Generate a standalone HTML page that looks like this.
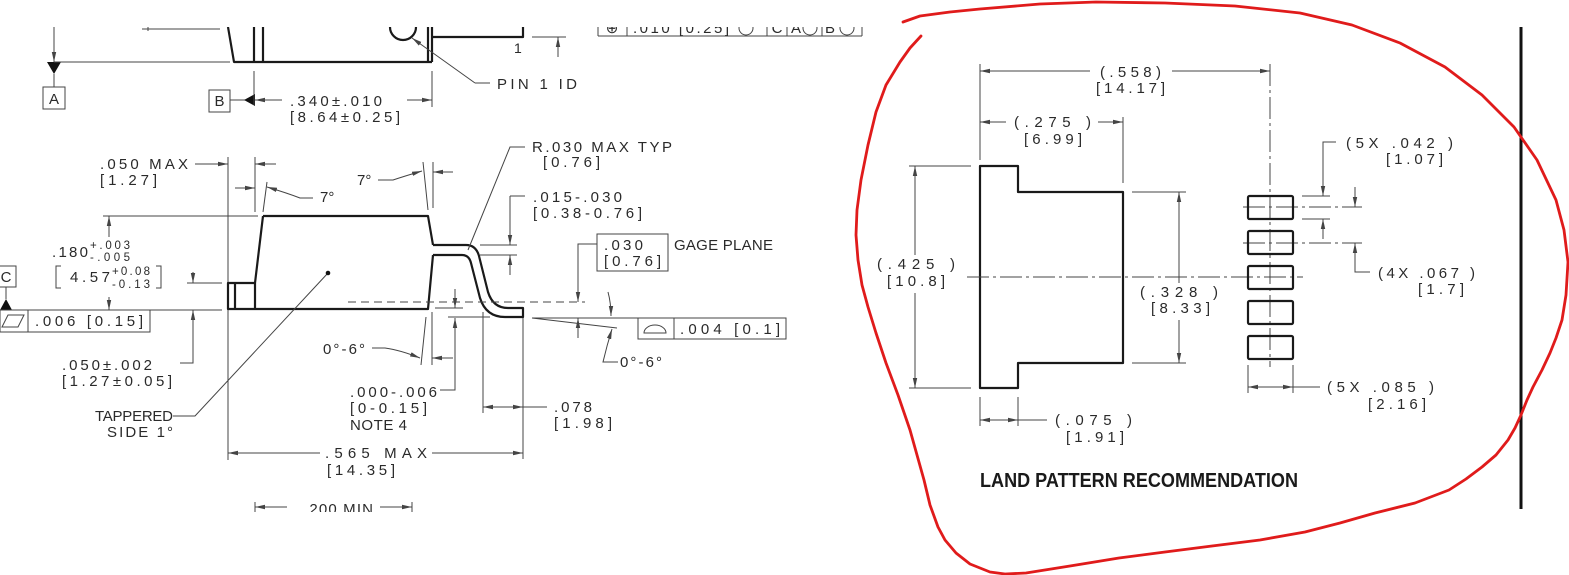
<!DOCTYPE html>
<html><head><meta charset="utf-8"><style>
html,body{margin:0;padding:0;background:#fff;}
svg{display:block;}
.t{font-family:"Liberation Sans",sans-serif;font-size:15px;fill:#2a2a2a;}
.s{font-family:"Liberation Sans",sans-serif;font-size:11.5px;fill:#2a2a2a;}
.n{stroke:#444;stroke-width:1;fill:none;}
.k{stroke:#1a1a1a;stroke-width:2.2;fill:none;stroke-linejoin:round;}
.cd{stroke:#444;stroke-width:1;fill:none;stroke-dasharray:22,4,3,4;}
</style></head><body>
<svg width="1569" height="575" viewBox="0 0 1569 575" xmlns="http://www.w3.org/2000/svg">
<defs>
<marker id="h" markerUnits="userSpaceOnUse" markerWidth="11" markerHeight="6" refX="10" refY="3" orient="auto-start-reverse" viewBox="0 0 11 6"><path d="M0,0.8 L10,3 L0,5.2 z" fill="#444"/></marker>
<clipPath id="cl"><rect x="0" y="27" width="900" height="485"/></clipPath>
</defs>
<rect width="1569" height="575" fill="#fff"/>

<g clip-path="url(#cl)">
<!-- top-left datum A -->
<path class="n" d="M54,27 L54,62" marker-end="url(#h)"/>
<polygon points="47,62 61,62 54,74" fill="#111"/>
<path class="n" d="M54,74 L54,87"/>
<rect x="43" y="87" width="22" height="22" class="n"/>
<text class="t" x="54" y="104" text-anchor="middle">A</text>
<path class="n" d="M54,62 L230,62" stroke="#777"/>
<path class="n" d="M142,29 L220,29 M148,27 L148,31"/>
<!-- top body -->
<path class="k" d="M228,27 L234,62 L432,62 M254,27 L254,62 M263,27 L263,62 M428,27 L428,62 M432,27 L432,62 M432,37 L523,37 L523,27"/>
<circle cx="403" cy="27" r="13" class="k" stroke-width="1.6"/>
<text x="514" y="53" style="font-family:'Liberation Sans',sans-serif;font-size:14px;fill:#2a2a2a;">1</text>
<path class="n" d="M532,37 L566,37"/>
<path class="n" d="M558,57 L558,37" marker-end="url(#h)"/>
<path class="n" d="M475,83 L412,38" marker-end="url(#h)"/>
<path class="n" d="M475,83 L490,83"/>
<text class="t" x="497" y="89" textLength="80">PIN 1 ID</text>
<!-- top FCF -->
<path class="n" d="M598,36 L862,36 M598,20 L598,36 M627,20 L627,36 M767,20 L767,36 M787,20 L787,36 M822,20 L822,36 M862,20 L862,36"/>
<text class="t" x="612" y="33" text-anchor="middle">⊕</text>
<text class="t" x="633" y="33" textLength="96">.010 [0.25]</text>
<circle cx="746" cy="28" r="7" class="n"/>
<text class="t" x="777" y="33" text-anchor="middle">C</text>
<text class="t" x="796" y="33" text-anchor="middle">A</text>
<circle cx="810" cy="28" r="7" class="n"/>
<text class="t" x="830" y="33" text-anchor="middle">B</text>
<circle cx="847" cy="28" r="7" class="n"/>

<!-- datum B + .340 -->
<rect x="209" y="90" width="21" height="22" class="n"/>
<text class="t" x="219.5" y="106" text-anchor="middle">B</text>
<path class="n" d="M230,100 L245,100"/>
<polygon points="244,100 255,94 255,106" fill="#111"/>
<path class="n" d="M254,71 L254,105 M432,71 L432,107"/>
<path class="n" d="M282,100 L255,100" marker-end="url(#h)"/>
<path class="n" d="M407,100 L432,100" marker-end="url(#h)"/>
<text class="t" x="290" y="106" textLength="92">.340±.010</text>
<text class="t" x="290" y="122" textLength="110">[8.64±0.25]</text>

<!-- .050 MAX -->
<text class="t" x="100" y="169" textLength="88">.050  MAX</text>
<text class="t" x="100" y="185" textLength="57">[1.27]</text>
<path class="n" d="M195,164 L228,164" marker-end="url(#h)"/>
<path class="n" d="M276,164 L255,164" marker-end="url(#h)"/>
<path class="n" d="M228,157 L228,460 M255,157 L255,212"/>
<!-- lower-left 7 deg -->
<path class="n" d="M235,188 L255,188" marker-end="url(#h)"/>
<path class="n" d="M267,182 L263,212"/>
<path class="n" d="M313,198 L300,198 Q287,193 267,187" marker-end="url(#h)"/>
<text class="t" x="320" y="202">7°</text>
<!-- upper-right 7 deg -->
<text class="t" x="357" y="185">7°</text>
<path class="n" d="M378,180 L393,180 Q405,176 422,171" marker-end="url(#h)"/>
<path class="n" d="M423,162 L428,210 M433,162 L433,208"/>
<path class="n" d="M453,172 L433,172" marker-end="url(#h)"/>

<!-- body side view -->
<path class="k" d="M263,216 L428,216 L433,245 M433,255 L428,309 L228,309 L228,283 L255,283 M263,216 L255,283 L255,309 M235,283 L235,309"/>
<!-- lead -->
<path class="k" d="M433,245 L466,245 Q476,245 479,256 L488,292 Q493,308 508,308 L523,308 L523,317 L505,317 Q486,317 480,298 L471,263 Q469,255 462,255 L433,255"/>
<path class="n" d="M348,302 L585,302" stroke-dasharray="8,5" stroke="#555"/>

<!-- .180 -->
<path class="n" d="M103,216 L258,216 M187,283 L222,283 M150,310 L222,310"/>
<path class="n" d="M109,237 L109,216" marker-end="url(#h)"/>
<path class="n" d="M109,297 L109,310" marker-end="url(#h)"/>
<text class="t" x="52" y="257" textLength="36">.180</text>
<text class="s" x="90" y="249" textLength="40">+.003</text>
<text class="s" x="90" y="261" textLength="40">-.005</text>
<path class="n" d="M61,266 L56,266 L56,288 L61,288 M156,266 L161,266 L161,288 L156,288"/>
<text class="t" x="70" y="282" textLength="40">4.57</text>
<text class="s" x="112" y="275" textLength="38">+0.08</text>
<text class="s" x="112" y="288" textLength="38">-0.13</text>
<!-- datum C and FCF -->
<rect x="-5" y="266" width="21" height="21" class="n"/>
<text class="t" x="6" y="282" text-anchor="middle">C</text>
<path class="n" d="M6,287 L6,299"/>
<polygon points="0,310 12,310 6,299" fill="#111"/>
<rect x="0" y="310" width="150" height="22" class="n"/>
<path class="n" d="M28,310 L28,332 M2,327 L8,315 L24,315 L18,327 Z"/>
<text class="t" x="35" y="326" textLength="108">.006 [0.15]</text>
<!-- .050±.002 -->
<path class="n" d="M193,272 L193,283" marker-end="url(#h)"/>
<path class="n" d="M180,363 L193,363 L193,310" marker-end="url(#h)"/>
<text class="t" x="62" y="370" textLength="90">.050±.002</text>
<text class="t" x="62" y="386" textLength="110">[1.27±0.05]</text>
<!-- tappered -->
<text class="t" x="95" y="421" textLength="78">TAPPERED</text>
<text class="t" x="107" y="437" textLength="66">SIDE 1°</text>
<path class="n" d="M173,416 L195,416 L328,273"/>
<circle cx="328" cy="273" r="2.3" fill="#111"/>

<!-- R.030 -->
<path class="n" d="M468,250 L510,147 L525,147"/>
<text class="t" x="532" y="152" textLength="140">R.030  MAX TYP</text>
<text class="t" x="543" y="167" textLength="57">[0.76]</text>
<!-- .015-.030 -->
<path class="n" d="M480,245 L517,245 M480,255 L517,255 M510,196 L525,196"/>
<path class="n" d="M510,196 L510,245" marker-end="url(#h)"/>
<path class="n" d="M510,275 L510,255" marker-end="url(#h)"/>
<text class="t" x="533" y="202" textLength="89">.015-.030</text>
<text class="t" x="533" y="218" textLength="109">[0.38-0.76]</text>
<!-- gage plane -->
<rect x="597" y="234" width="71" height="37" class="n"/>
<text class="t" x="604" y="250" textLength="39">.030</text>
<text class="t" x="604" y="266" textLength="57">[0.76]</text>
<text class="t" x="674" y="250" textLength="99">GAGE PLANE</text>
<path class="n" d="M597,244 L578,244 L578,302" marker-end="url(#h)"/>
<path class="n" d="M532,318 L638,318 M532,318 L617,328"/>
<path class="n" d="M578,338 L578,318" marker-end="url(#h)"/>
<path class="n" d="M608,292 Q611,303 611,316" marker-end="url(#h)"/>
<path class="n" d="M618,362 L603,362 Q607,345 612,329" marker-end="url(#h)"/>
<text class="t" x="620" y="367" textLength="42">0°-6°</text>
<rect x="638" y="318" width="148" height="21" class="n"/>
<path class="n" d="M674,318 L674,339 M644,333 A11,8 0 0 1 666,333 Z"/>
<text class="t" x="680" y="334" textLength="100">.004 [0.1]</text>
<!-- left 0-6 -->
<text class="t" x="323" y="354" textLength="42">0°-6°</text>
<path class="n" d="M372,348 L385,348 Q400,350 420,358" marker-end="url(#h)"/>
<path class="n" d="M426,317 L421,365 M432,312 L432,365"/>
<path class="n" d="M453,358 L432,358" marker-end="url(#h)"/>
<!-- .000-.006 -->
<path class="n" d="M435,308 L463,308 M448,317 L490,317"/>
<path class="n" d="M455,289 L455,308" marker-end="url(#h)"/>
<path class="n" d="M440,390 L455,390 L455,318" marker-end="url(#h)"/>
<text class="t" x="350" y="397" textLength="87">.000-.006</text>
<text class="t" x="350" y="413" textLength="77">[0-0.15]</text>
<text class="t" x="350" y="430" textLength="57">NOTE 4</text>
<!-- .078 -->
<path class="n" d="M483,312 L483,413 M523,318 L523,459"/>
<path class="n" d="M483,407 L523,407" marker-start="url(#h)" marker-end="url(#h)"/>
<path class="n" d="M523,407 L547,407"/>
<text class="t" x="554" y="412" textLength="38">.078</text>
<text class="t" x="554" y="428" textLength="58">[1.98]</text>
<!-- .565 -->
<path class="n" d="M320,453 L228,453" marker-end="url(#h)"/>
<path class="n" d="M432,453 L523,453" marker-end="url(#h)"/>
<text class="t" x="325" y="458" textLength="102">.565  MAX</text>
<text class="t" x="327" y="475" textLength="68">[14.35]</text>
<!-- .200 MIN -->
<path class="n" d="M255,502 L255,514 M412,502 L412,514"/>
<path class="n" d="M287,507 L255,507" marker-end="url(#h)"/>
<path class="n" d="M380,507 L412,507" marker-end="url(#h)"/>
<text class="t" x="304" y="514" textLength="69">.200 MIN</text>
</g>

<!-- RIGHT: land pattern -->
<path class="k" d="M980,166 L1018,166 L1018,192 L1123,192 L1123,363 L1018,363 L1018,388 L980,388 Z"/>
<!-- .558 -->
<path class="n" d="M980,64 L980,160"/>
<path class="n" d="M1090,71 L980,71" marker-end="url(#h)"/>
<path class="n" d="M1172,71 L1270,71" marker-end="url(#h)"/>
<text class="t" x="1100" y="77" textLength="61">(.558)</text>
<text class="t" x="1096" y="93" textLength="69">[14.17]</text>
<!-- .275 -->
<path class="n" d="M1006,122 L980,122" marker-end="url(#h)"/>
<path class="n" d="M1098,122 L1123,122" marker-end="url(#h)"/>
<path class="n" d="M1123,117 L1123,183"/>
<text class="t" x="1014" y="127" textLength="77">(.275  )</text>
<text class="t" x="1024" y="144" textLength="58">[6.99]</text>
<!-- centerlines -->
<path class="cd" d="M1270,64 L1270,367"/>
<path class="cd" d="M967,277 L1303,277"/>
<path class="cd" d="M1243,207 L1362,207"/>
<path class="cd" d="M1243,243 L1362,243"/>
<!-- .425 -->
<path class="n" d="M909,166 L971,166 M909,388 L971,388"/>
<path class="n" d="M915,255 L915,166" marker-end="url(#h)"/>
<path class="n" d="M915,293 L915,388" marker-end="url(#h)"/>
<text class="t" x="877" y="269" textLength="78">(.425  )</text>
<text class="t" x="887" y="286" textLength="58">[10.8]</text>
<!-- .328 -->
<path class="n" d="M1132,192 L1186,192 M1132,363 L1186,363"/>
<path class="n" d="M1179,283 L1179,192" marker-end="url(#h)"/>
<path class="n" d="M1179,320 L1179,363" marker-end="url(#h)"/>
<text class="t" x="1140" y="297" textLength="78">(.328  )</text>
<text class="t" x="1151" y="313" textLength="59">[8.33]</text>
<!-- .075 -->
<path class="n" d="M980,397 L980,426 M1018,397 L1018,426"/>
<path class="n" d="M980,420 L1018,420" marker-start="url(#h)" marker-end="url(#h)"/>
<path class="n" d="M1018,420 L1047,420"/>
<text class="t" x="1055" y="425" textLength="77">(.075  )</text>
<text class="t" x="1066" y="442" textLength="58">[1.91]</text>
<!-- pads -->
<rect x="1248" y="196" width="45" height="23" rx="1.5" class="k"/>
<rect x="1248" y="231" width="45" height="23" rx="1.5" class="k"/>
<rect x="1248" y="266" width="45" height="23" rx="1.5" class="k"/>
<rect x="1248" y="301" width="45" height="23" rx="1.5" class="k"/>
<rect x="1248" y="336" width="45" height="23" rx="1.5" class="k"/>
<!-- 5X .042 -->
<path class="n" d="M1302,196 L1330,196 M1302,219 L1330,219"/>
<path class="n" d="M1336,142 L1323,142 L1323,196" marker-end="url(#h)"/>
<path class="n" d="M1323,239 L1323,219" marker-end="url(#h)"/>
<text class="t" x="1346" y="148" textLength="107">(5X .042  )</text>
<text class="t" x="1386" y="164" textLength="57">[1.07]</text>
<!-- 4X .067 -->
<path class="n" d="M1355,187 L1355,207" marker-end="url(#h)"/>
<path class="n" d="M1370,272 L1355,272 L1355,243" marker-end="url(#h)"/>
<text class="t" x="1378" y="278" textLength="97">(4X .067 )</text>
<text class="t" x="1418" y="294" textLength="46">[1.7]</text>
<!-- 5X .085 -->
<path class="n" d="M1248,365 L1248,393 M1293,365 L1293,393"/>
<path class="n" d="M1248,387 L1293,387" marker-start="url(#h)" marker-end="url(#h)"/>
<path class="n" d="M1293,387 L1320,387"/>
<text class="t" x="1327" y="392" textLength="107">(5X .085  )</text>
<text class="t" x="1368" y="409" textLength="58">[2.16]</text>
<!-- border line -->
<path d="M1521,27 L1521,509" stroke="#111" stroke-width="3"/>
<text x="980" y="487" textLength="318" lengthAdjust="spacingAndGlyphs" style="font-family:'Liberation Sans',sans-serif;font-size:20px;font-weight:bold;fill:#1a1a1a;">LAND PATTERN RECOMMENDATION</text>

<!-- red annotation -->
<path fill="none" stroke="#e01b1b" stroke-width="2.8" stroke-linejoin="round" stroke-linecap="round" d="M903,22 L920,16 L950,12 L980,9 L1040,4 L1096,2 L1165,3 L1235,6 L1300,13 L1352,25 L1400,43 L1445,67 L1482,95 L1514,127 L1537,160 L1556,200 L1564,230 L1568,262 L1566,295 L1562,320 L1556,338 L1550,353 L1542,370 L1533,387 L1527,400 L1521,415 L1515,428 L1508,440 L1496,455 L1482,467 L1466,479 L1449,490 L1415,503 L1375,513 L1340,523 L1305,532 L1260,540 L1212,546 L1165,552 L1119,558 L1070,566 L1026,573 L1005,574 L990,572 L970,564 L956,553 L945,540 L938,527 L930,505 L924,480 L917,455 L910,430 L898,395 L886,363 L876,333 L868,307 L862,285 L858,260 L856,235 L857,210 L861,180 L868,145 L876,112 L886,85 L900,62 L910,48 L921,36"/>
</svg>
</body></html>
